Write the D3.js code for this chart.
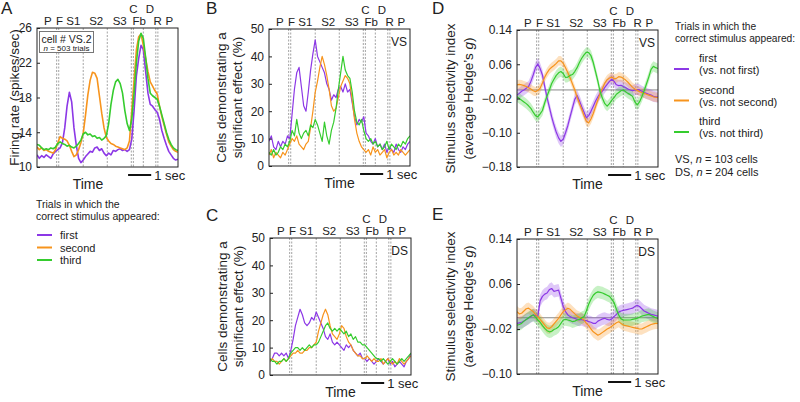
<!DOCTYPE html>
<html>
<head>
<meta charset="utf-8">
<title>Stimulus selectivity</title>
<script src="https://cdn.jsdelivr.net/npm/d3@7"></script>
<style>
body { margin: 0; background: #fff; }
svg text { font-family: "Liberation Sans", Arial, sans-serif; fill: #222; }
</style>
</head>
<body>
<svg id="fig" width="800" height="402"></svg>
<script>
// time of each sample (sec), shared by every series
var timeGrid = [0.0,0.1,0.2,0.3,0.4,0.5,0.6,0.7,0.8,0.9,
  1.0,1.1,1.2,1.3,1.4,1.5,1.6,1.7,1.8,1.9,
  2.0,2.1,2.2,2.3,2.4,2.5,2.6,2.7,2.8,2.9,
  3.0,3.1,3.2,3.3,3.4,3.5,3.6,3.7,3.8,3.9,
  4.0,4.1,4.2,4.3,4.4,4.5,4.6,4.7,4.8,4.9,
  5.0,5.1,5.2,5.3,5.4,5.5,5.6,5.7,5.8,5.9,
  6.0,6.1];

var eventLines = [0.85, 0.94, 2.0, 3.04, 4.08, 4.17, 4.6, 5.14, 5.23];
var eventLabels = ["P", "F", "S1", "S2", "S3", "Fb", "R", "P"];
var eventLabelTimes = [0.47, 0.97, 1.57, 2.56, 3.58, 4.42, 5.22, 5.72];
var upperLabels = ["C", "D"];
var upperLabelTimes = [4.17, 4.88];

var conditions = ["first", "second", "third"];
var colors = ["#8c38e6", "#f7941d", "#35cc2e"];

// A: firing rate (spikes/sec), cell VS.2
var rateFirst = [11.4,11.0,11.3,11.1,11.4,11.2,11.0,11.5,11.8,12.0,
  12.2,12.8,14.5,17.0,18.6,17.5,14.5,12.5,11.0,10.5,
  10.8,11.2,11.5,11.8,11.7,12.2,12.3,11.9,12.1,11.6,
  11.3,11.6,11.4,11.9,11.8,12.0,12.1,11.9,12.0,11.8,
  12.0,13.2,16.5,20.5,22.5,24.0,23.5,21.0,18.5,17.2,
  17.0,16.6,16.3,15.5,14.2,13.3,12.5,11.8,11.4,11.0,
  10.8,10.9];
var rateSecond = [12.3,12.0,12.2,11.9,12.0,11.8,11.7,11.6,12.0,12.8,
  13.5,13.3,13.2,13.0,12.5,11.8,11.2,11.4,12.0,12.8,
  13.9,16.0,18.3,20.0,20.9,20.8,20.2,18.2,16.2,14.5,
  13.4,13.0,12.7,12.6,12.4,12.3,12.2,12.1,12.0,12.2,
  13.0,16.5,20.0,23.5,25.0,25.3,24.0,22.5,21.0,19.8,
  19.3,18.8,18.4,17.0,15.8,14.8,13.8,12.9,12.4,12.0,
  11.8,11.7];
var rateThird = [12.6,12.5,12.2,12.0,12.1,12.0,12.2,12.1,12.3,12.7,
  12.9,12.7,12.6,12.4,12.5,12.3,12.2,12.4,12.7,13.1,
  13.8,14.0,13.7,13.8,13.5,13.6,13.3,13.4,13.1,13.3,
  13.6,15.0,17.2,18.8,19.8,20.1,19.6,18.5,16.5,15.0,
  14.2,15.5,18.5,22.0,24.5,25.4,24.8,22.6,20.2,18.5,
  18.2,18.0,17.8,17.0,16.0,15.0,14.0,13.2,12.6,12.2,
  12.0,11.9];

// B: % VS cells with a significant effect
var vsCellsFirst = [9,11,7,6,9,7,9,8,11,10,
  19,28,34,36,29,22,20,27,35,41,
  46,40,38,36,34,30,28,24,26,25,
  28,29,27,30,27,28,23,18,15,17,
  16,18,12,11,9,8,10,7,8,6,
  8,5,7,6,5,8,6,5,7,6,
  8,9];
var vsCellsSecond = [4,6,3,5,4,3,5,4,6,8,
  10,9,11,8,7,6,8,9,14,20,
  27,31,36,40,37,33,28,22,20,21,
  25,29,31,33,32,30,24,17,12,9,
  7,6,5,6,4,7,5,6,4,5,
  6,3,5,6,4,5,4,6,5,4,
  5,6];
var vsCellsThird = [5,4,6,4,5,7,6,8,7,9,
  13,11,17,12,10,12,13,11,15,14,
  17,15,12,9,16,11,8,13,16,21,
  28,34,40,35,33,32,27,20,16,15,
  17,13,10,9,10,8,9,7,8,6,
  7,9,6,8,7,6,8,7,9,8,
  10,11];

// C: % DS cells with a significant effect
var dsCellsFirst = [5,6,8,8,7,8,7,8,6,9,
  13,18,21,24,22,19,18,19,21,20,
  23,21,19,17,14,13,15,12,11,12,
  11,10,9,11,10,11,9,8,7,8,
  6,6,5,6,5,4,5,6,5,4,
  5,6,4,5,3,4,5,4,3,5,
  6,8];
var dsCellsSecond = [5,6,5,5,4,5,6,5,6,7,
  8,8,9,8,8,9,9,10,10,11,
  12,16,19,22,24,22,18,15,14,13,
  15,18,17,14,12,11,9,8,7,7,
  6,6,7,6,5,6,5,5,6,4,
  5,6,5,4,5,4,6,5,4,5,
  6,7];
var dsCellsThird = [6,5,5,4,5,5,6,5,6,8,
  9,10,10,9,10,9,10,11,10,11,
  11,12,14,16,18,19,17,16,17,16,
  17,16,15,16,14,15,13,14,12,12,
  11,11,10,9,8,7,6,6,5,6,
  5,4,5,6,5,4,5,6,5,6,
  7,8];

// D: selectivity index, VS cells
var vsIndexFirst = [-0.012,-0.008,-0.003,0.0,0.004,0.008,0.02,0.035,0.052,0.061,
  0.05,0.035,0.008,-0.018,-0.04,-0.063,-0.082,-0.099,-0.112,-0.12,
  -0.115,-0.1,-0.083,-0.062,-0.042,-0.022,-0.013,-0.025,-0.039,-0.052,
  -0.065,-0.06,-0.05,-0.038,-0.026,-0.016,-0.008,-0.002,0.006,0.013,
  0.02,0.025,0.02,0.012,0.01,0.011,0.008,0.005,0.002,0.0,
  -0.002,0.0,0.001,0.0,-0.003,-0.006,-0.008,-0.01,-0.012,-0.015,
  -0.016,-0.017];
var vsIndexSecond = [0.012,0.013,0.012,0.01,0.008,0.005,0.002,-0.002,-0.004,-0.001,
  0.004,0.016,0.03,0.04,0.048,0.053,0.057,0.062,0.068,0.068,
  0.062,0.052,0.04,0.028,0.014,0.0,-0.017,-0.032,-0.045,-0.06,
  -0.073,-0.077,-0.068,-0.055,-0.039,-0.023,-0.008,0.004,0.016,0.024,
  0.028,0.03,0.026,0.027,0.031,0.03,0.027,0.023,0.018,0.012,
  0.006,0.002,-0.001,-0.004,-0.006,-0.008,-0.01,-0.012,-0.014,-0.016,
  -0.017,-0.018];
var vsIndexThird = [-0.016,-0.02,-0.024,-0.028,-0.032,-0.037,-0.043,-0.052,-0.06,-0.063,
  -0.056,-0.048,-0.03,-0.014,0.0,0.015,0.025,0.034,0.04,0.043,
  0.038,0.029,0.03,0.034,0.036,0.043,0.052,0.064,0.074,0.082,
  0.088,0.087,0.08,0.064,0.042,0.02,-0.005,-0.02,-0.032,-0.038,
  -0.032,-0.024,-0.018,-0.01,-0.006,-0.002,0.0,-0.004,-0.008,-0.011,
  -0.015,-0.028,-0.035,-0.028,-0.016,-0.002,0.014,0.03,0.048,0.055,
  0.052,0.05];
var vsIndexSem = [0.013, 0.011, 0.012];

// E: selectivity index, DS cells
var dsIndexFirst = [-0.01,-0.009,-0.008,-0.006,-0.003,-0.001,0.002,0.005,0.004,0.003,
  0.03,0.038,0.042,0.044,0.05,0.052,0.047,0.048,0.049,0.035,
  0.02,0.011,0.005,0.002,0.0,-0.001,-0.003,-0.004,-0.003,-0.005,
  -0.005,-0.007,-0.008,-0.01,-0.01,-0.006,-0.004,-0.002,-0.001,-0.003,
  -0.004,-0.002,0.002,0.006,0.01,0.012,0.013,0.014,0.015,0.016,
  0.017,0.02,0.022,0.02,0.016,0.012,0.01,0.008,0.006,0.005,
  0.004,0.003];
var dsIndexSecond = [0.011,0.007,0.008,0.012,0.016,0.017,0.014,0.011,0.006,0.002,
  -0.003,-0.008,-0.013,-0.018,-0.019,-0.016,-0.011,-0.006,-0.001,0.005,
  0.011,0.014,0.017,0.015,0.011,0.007,0.003,0.001,-0.001,-0.004,
  -0.01,-0.014,-0.02,-0.025,-0.028,-0.031,-0.029,-0.026,-0.023,-0.02,
  -0.018,-0.015,-0.012,-0.009,-0.007,-0.01,-0.013,-0.014,-0.015,-0.016,
  -0.017,-0.018,-0.019,-0.02,-0.02,-0.018,-0.016,-0.014,-0.012,-0.011,
  -0.01,-0.01];
var dsIndexThird = [-0.013,-0.012,-0.01,-0.006,-0.003,0.0,0.003,0.005,0.001,-0.004,
  -0.008,-0.014,-0.019,-0.023,-0.025,-0.024,-0.021,-0.019,-0.016,-0.01,
  -0.004,-0.003,-0.004,-0.005,-0.007,-0.006,-0.004,-0.003,0.0,0.002,
  0.012,0.024,0.033,0.04,0.044,0.046,0.045,0.044,0.042,0.04,
  0.038,0.033,0.027,0.015,0.005,-0.002,-0.004,-0.004,-0.004,-0.004,
  -0.003,-0.002,-0.001,0.001,0.003,0.004,0.005,0.006,0.004,0.002,
  0.0,-0.001];
var dsIndexSem = [0.011, 0.010, 0.011];

var svg = d3.select("#fig");
var plotW = 141;
var minus = function(v) { return v.toFixed(2).replace("-", "\u2212"); };

function drawPanel(p) {
  var g = svg.append("g");
  var x = d3.scaleLinear().domain([0, 6.1]).range([p.left, p.left + plotW]);
  var y = d3.scaleLinear().domain(p.domain).range([p.top + p.height, p.top]);
  var bottom = p.top + p.height;

  var clipId = "clip" + p.letter;
  g.append("clipPath").attr("id", clipId).append("rect")
    .attr("x", p.left).attr("y", p.top).attr("width", plotW).attr("height", p.height);

  // task event markers
  g.selectAll(".ev").data(eventLines).enter().append("line")
    .attr("x1", function(d) { return x(d); }).attr("x2", function(d) { return x(d); })
    .attr("y1", p.top).attr("y2", bottom)
    .attr("stroke", "#8c8c8c").attr("stroke-width", 0.8).attr("stroke-dasharray", "2,1.5");

  if (p.zeroLine) {
    g.append("line").attr("x1", p.left).attr("x2", p.left + plotW)
      .attr("y1", y(0)).attr("y2", y(0)).attr("stroke", "#888").attr("stroke-width", 1);
  }

  var plot = g.append("g").attr("clip-path", "url(#" + clipId + ")");
  p.series.forEach(function(s, i) {
    if (p.sem) {
      var band = d3.area()
        .x(function(d, j) { return x(timeGrid[j]); })
        .y0(function(d) { return y(d - p.sem[i]); })
        .y1(function(d) { return y(d + p.sem[i]); });
      plot.append("path").datum(s).attr("d", band)
        .attr("fill", colors[i]).attr("opacity", 0.28);
    }
  });
  p.series.forEach(function(s, i) {
    var line = d3.line()
      .x(function(d, j) { return x(timeGrid[j]); })
      .y(function(d) { return y(d); });
    plot.append("path").datum(s).attr("d", line)
      .attr("fill", "none").attr("stroke", colors[i]).attr("stroke-width", p.lw)
      .attr("stroke-linejoin", "round");
  });

  // frame and y axis
  g.append("rect").attr("x", p.left).attr("y", p.top).attr("width", plotW).attr("height", p.height)
    .attr("fill", "none").attr("stroke", "#222").attr("stroke-width", 1);
  var ax = g.append("g").attr("transform", "translate(" + p.left + ",0)")
    .call(d3.axisLeft(y).tickValues(p.ticks).tickSize(-3).tickPadding(5).tickFormat(p.fmt));
  ax.select(".domain").remove();
  ax.selectAll("line").attr("stroke", "#222");
  ax.selectAll("text").attr("font-size", "12px").attr("fill", "#222")
    .style("font-family", "'Liberation Sans', Arial, sans-serif");

  // event labels
  g.selectAll(".lab").data(eventLabels).enter().append("text")
    .attr("x", function(d, i) { return x(eventLabelTimes[i]); })
    .attr("y", p.top - 3).attr("text-anchor", "middle").attr("font-size", "11.5px")
    .text(function(d) { return d; });
  g.selectAll(".ulab").data(upperLabels).enter().append("text")
    .attr("x", function(d, i) { return x(upperLabelTimes[i]); })
    .attr("y", p.top - 15).attr("text-anchor", "middle").attr("font-size", "11.5px")
    .text(function(d) { return d; });

  // time label and scale bar
  g.append("text").attr("x", p.left + p.timeX).attr("y", bottom + 22)
    .attr("text-anchor", "middle").attr("font-size", "14px").text("Time");
  g.append("line").attr("x1", x(3.94)).attr("x2", x(4.94))
    .attr("y1", bottom + 8).attr("y2", bottom + 8).attr("stroke", "#111").attr("stroke-width", 2);
  g.append("text").attr("x", x(4.94) + 3).attr("y", bottom + 13)
    .attr("font-size", "13px").text("1 sec");

  // panel letter
  g.append("text").attr("x", p.letterX).attr("y", p.letterY)
    .attr("font-size", "17px").text(p.letter);

  // y label, one or two lines
  p.ylabel.forEach(function(t, k) {
    var txt = g.append("text")
      .attr("transform", "translate(" + p.ylabelX[k] + "," + (p.top + p.height / 2) + ") rotate(-90)")
      .attr("dy", "0.35em").attr("text-anchor", "middle").attr("font-size", "13.5px");
    if (t.indexOf("Hedge") >= 0) {
      txt.append("tspan").text("(average Hedge\u2019s ");
      txt.append("tspan").attr("font-style", "italic").text("g");
      txt.append("tspan").text(")");
    } else {
      txt.text(t);
    }
  });

  if (p.tag) {
    g.append("text").attr("x", p.left + plotW - 3).attr("y", p.top + 17)
      .attr("text-anchor", "end").attr("font-size", "12px").text(p.tag);
  }
  return g;
}

var cellsLabel = ["Cells demonstrating a", "significant effect (%)"];
var indexLabel = ["Stimulus selectivity index", "(average Hedge's g)"];
var intFmt = function(v) { return v; };

drawPanel({ letter: "A", letterX: 1, letterY: 14, left: 37, top: 28, height: 139,
  domain: [10, 26], ticks: [10, 14, 18, 22, 26], fmt: intFmt, lw: 1.6, timeX: 51,
  series: [rateFirst, rateSecond, rateThird],
  ylabel: ["Firing rate (spikes/sec)"], ylabelX: [14] });

drawPanel({ letter: "B", letterX: 206, letterY: 14, left: 269, top: 29, height: 137,
  domain: [0, 50], ticks: [0, 10, 20, 30, 40, 50], fmt: intFmt, lw: 1.2, timeX: 70.5,
  series: [vsCellsFirst, vsCellsSecond, vsCellsThird], tag: "VS",
  ylabel: cellsLabel, ylabelX: [221, 237] });

drawPanel({ letter: "C", letterX: 206, letterY: 221, left: 270, top: 238, height: 137,
  domain: [0, 50], ticks: [0, 10, 20, 30, 40, 50], fmt: intFmt, lw: 1.2, timeX: 70.5,
  series: [dsCellsFirst, dsCellsSecond, dsCellsThird], tag: "DS",
  ylabel: cellsLabel, ylabelX: [222, 238] });

drawPanel({ letter: "D", letterX: 432, letterY: 14, left: 517, top: 30, height: 137,
  domain: [-0.18, 0.14], ticks: [-0.18, -0.10, -0.02, 0.06, 0.14], fmt: minus, lw: 1.2,
  timeX: 70.5, zeroLine: true, sem: vsIndexSem,
  series: [vsIndexFirst, vsIndexSecond, vsIndexThird], tag: "VS",
  ylabel: indexLabel, ylabelX: [450, 468] });

drawPanel({ letter: "E", letterX: 432, letterY: 220, left: 517, top: 239, height: 135,
  domain: [-0.10, 0.14], ticks: [-0.10, -0.02, 0.06, 0.14], fmt: minus, lw: 1.2,
  timeX: 70.5, zeroLine: true, sem: dsIndexSem,
  series: [dsIndexFirst, dsIndexSecond, dsIndexThird], tag: "DS",
  ylabel: indexLabel, ylabelX: [450, 468] });

// inset in A
svg.append("rect").attr("x", 39.5).attr("y", 31.5).attr("width", 54).attr("height", 21)
  .attr("fill", "#fff").attr("stroke", "#777").attr("stroke-width", 1);
svg.append("text").attr("x", 66.5).attr("y", 43).attr("text-anchor", "middle")
  .attr("font-size", "10.5px").text("cell # VS.2");
var nTxt = svg.append("text").attr("x", 66.5).attr("y", 51).attr("text-anchor", "middle")
  .attr("font-size", "8px");
nTxt.append("tspan").attr("font-style", "italic").text("n");
nTxt.append("tspan").text(" = 503 trials");

// legend under A
var legA = svg.append("g");
legA.append("text").attr("x", 36).attr("y", 208).attr("font-size", "10.5px").text("Trials in which the");
legA.append("text").attr("x", 36).attr("y", 220).attr("font-size", "10.5px").text("correct stimulus appeared:");
conditions.forEach(function(c, i) {
  var yy = 235 + i * 12.5;
  legA.append("line").attr("x1", 37).attr("x2", 52).attr("y1", yy).attr("y2", yy)
    .attr("stroke", colors[i]).attr("stroke-width", 2);
  legA.append("text").attr("x", 60).attr("y", yy + 4).attr("font-size", "11px").text(c);
});

// legend right of D
var legD = svg.append("g");
legD.append("text").attr("x", 675).attr("y", 30).attr("font-size", "10.2px").text("Trials in which the");
legD.append("text").attr("x", 675).attr("y", 42).attr("font-size", "10.2px").text("correct stimulus appeared:");
conditions.forEach(function(c, i) {
  var yy = 69 + i * 31.5;
  legD.append("line").attr("x1", 674).attr("x2", 689).attr("y1", yy).attr("y2", yy)
    .attr("stroke", colors[i]).attr("stroke-width", 2);
  legD.append("text").attr("x", 699).attr("y", yy - 7).attr("font-size", "11px").text(c);
  legD.append("text").attr("x", 699).attr("y", yy + 5).attr("font-size", "11px").text("(vs. not " + c + ")");
});
var cellCounts = [["VS", 103], ["DS", 204]];
cellCounts.forEach(function(cc, i) {
  var t = legD.append("text").attr("x", 675).attr("y", 163 + i * 13).attr("font-size", "11px");
  t.append("tspan").text(cc[0] + ", ");
  t.append("tspan").attr("font-style", "italic").text("n");
  t.append("tspan").text(" = " + cc[1] + " cells");
});
</script>
</body>
</html>
